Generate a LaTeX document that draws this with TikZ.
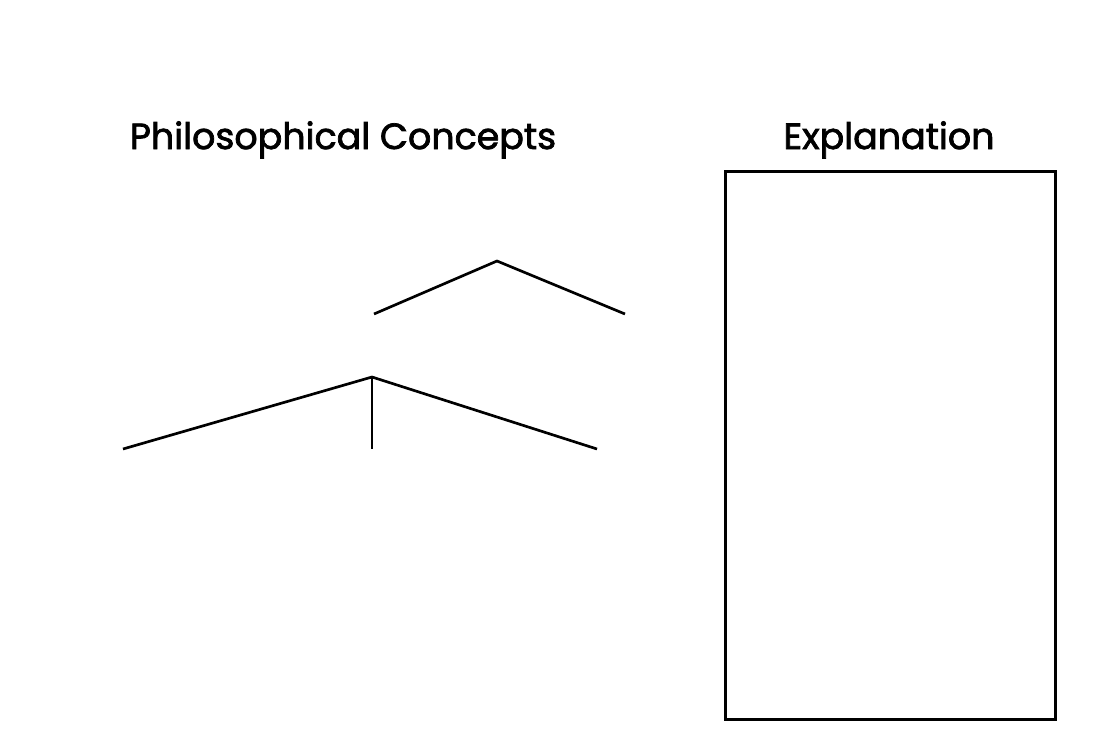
\documentclass[tikz,border=0pt]{standalone}
\usepackage{fontspec}
\setmainfont{Poppins}[FakeBold=2]
\usetikzlibrary{positioning}

\tikzset{
  heading/.style={font=\fontsize{27.3}{33}\selectfont, inner sep=0pt, anchor=base},
  branch/.style={line width=2pt},
  panel/.style={draw, line width=2pt}
}

\begin{document}
\begin{tikzpicture}[x=0.75pt,y=-0.75pt]
    \useasboundingbox (0,0) rectangle (1098,728);
    % headings
    \node[heading] (concepts) at (343,149) {Philosophical Concepts};
    \node[heading] (expl) at (889,149) {Explanation};
    % explanation panel
    \node[panel, minimum width=330*0.75pt, minimum height=548*0.75pt, anchor=north west] (box) at (724,170) {};
    % upper branch
    \coordinate (top) at (497,261);
    \coordinate (topL) at (374,314);
    \coordinate (topR) at (625,314);
    \draw[branch] (topL) -- (top) -- (topR);
    % lower branch
    \coordinate (root) at (372,377);
    \coordinate (leafL) at (123,449);
    \coordinate (leafM) at (372,449);
    \coordinate (leafR) at (597,449);
    \draw[branch] (leafL) -- (root) -- (leafR);
    \draw[branch] (root) -- (leafM);
\end{tikzpicture}
\end{document}
